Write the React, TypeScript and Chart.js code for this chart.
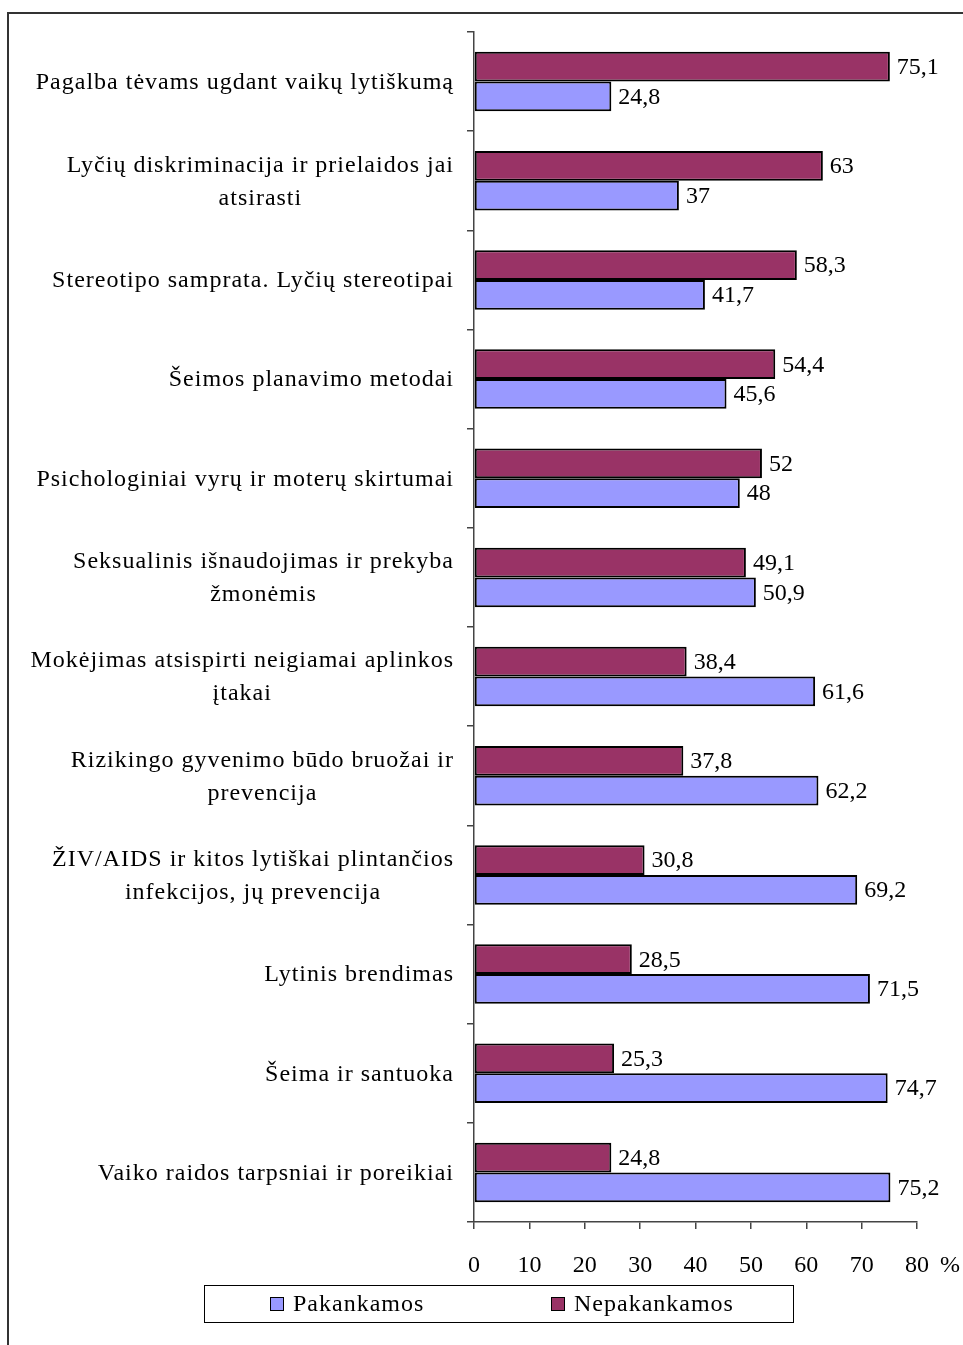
import React, { useEffect, useRef } from "react";
import { Chart, registerables } from "chart.js";

Chart.register(...registerables);

const categories: string[][] = [
  ["Pagalba tėvams ugdant vaikų lytiškumą"],
  ["Lyčių diskriminacija ir prielaidos jai", "atsirasti"],
  ["Stereotipo samprata. Lyčių stereotipai"],
  ["Šeimos planavimo metodai"],
  ["Psichologiniai vyrų ir moterų skirtumai"],
  ["Seksualinis išnaudojimas ir prekyba", "žmonėmis"],
  ["Mokėjimas atsispirti neigiamai aplinkos", "įtakai"],
  ["Rizikingo gyvenimo būdo bruožai ir", "prevencija"],
  ["ŽIV/AIDS ir kitos lytiškai plintančios", "infekcijos, jų prevencija"],
  ["Lytinis brendimas"],
  ["Šeima ir santuoka"],
  ["Vaiko raidos tarpsniai ir poreikiai"],
];

const nepakankamos: number[] = [75.1, 63, 58.3, 54.4, 52, 49.1, 38.4, 37.8, 30.8, 28.5, 25.3, 24.8];
const pakankamos: number[] = [24.8, 37, 41.7, 45.6, 48, 50.9, 61.6, 62.2, 69.2, 71.5, 74.7, 75.2];

const seriesNames = ["Pakankamos", "Nepakankamos"];
const xTicks: number[] = [0, 10, 20, 30, 40, 50, 60, 70, 80];
const unitLabel = "%";

const BLUE = "#9999FF";
const RED = "#993366";
const FONT = "'Liberation Serif', 'Times New Roman', serif";
const FS = 24;

const fmt = (v: number) => String(v).replace(".", ",");

export default function App() {
  const ref = useRef<HTMLCanvasElement | null>(null);

  useEffect(() => {
    if (!ref.current) return;
    const labelsPlugin = {
      id: "customLabels",
      afterDraw(chart: any) {
        const ctx = chart.ctx;
        const yScale = chart.scales.y;
        const xScale = chart.scales.x;
        ctx.save();
        ctx.font = `${FS}px ${FONT}`;
        ctx.fillStyle = "#000";
        // category labels
        ctx.letterSpacing = "1px";
        const right = chart.chartArea.left - 20;
        const lh = 33;
        categories.forEach((lines, i) => {
          const cy = yScale.getPixelForValue(i) + 1;
          const maxW = Math.max(...lines.map((l) => ctx.measureText(l).width));
          const cx = right - maxW / 2;
          ctx.textAlign = "center";
          ctx.textBaseline = "middle";
          const start = cy - ((lines.length - 1) * lh) / 2;
          lines.forEach((l, j) => ctx.fillText(l, cx, start + j * lh));
        });
        ctx.letterSpacing = "0px";
        // value labels
        ctx.textAlign = "left";
        ctx.textBaseline = "middle";
        chart.data.datasets.forEach((ds: any, di: number) => {
          const meta = chart.getDatasetMeta(di);
          meta.data.forEach((bar: any, i: number) => {
            ctx.fillText(fmt(ds.data[i]), bar.x + 7, bar.y + 1);
          });
        });
        // unit label
        const lastX = xScale.getPixelForValue(xTicks[xTicks.length - 1]);
        ctx.textAlign = "left";
        ctx.textBaseline = "middle";
        ctx.fillText(unitLabel, lastX + 23, xScale.top + 44);
        ctx.restore();
      },
    };

    const chart = new Chart(ref.current, {
      type: "bar",
      data: {
        labels: categories.map((c) => c.join(" ")),
        datasets: [
          {
            label: seriesNames[1],
            data: nepakankamos,
            backgroundColor: RED,
            borderColor: "#000",
            borderWidth: 2,
            borderSkipped: false,
            categoryPercentage: 0.6,
            barPercentage: 1,
          },
          {
            label: seriesNames[0],
            data: pakankamos,
            backgroundColor: BLUE,
            borderColor: "#000",
            borderWidth: 2,
            borderSkipped: false,
            categoryPercentage: 0.6,
            barPercentage: 1,
          },
        ],
      },
      plugins: [labelsPlugin],
      options: {
        indexAxis: "y",
        animation: false,
        responsive: false,
        maintainAspectRatio: false,
        layout: { padding: { top: 32, right: 46, left: 0, bottom: 0 } },
        plugins: { legend: { display: false }, tooltip: { enabled: false } },
        scales: {
          x: {
            type: "linear",
            min: 0,
            max: 80,
            afterBuildTicks: (s: any) => {
              s.ticks = xTicks.map((v) => ({ value: v }));
            },
            afterFit: (s: any) => {
              s.height = 123;
            },
            grid: {
              drawOnChartArea: false,
              drawTicks: true,
              tickLength: 7,
              color: "#444",
              lineWidth: 1.5,
            },
            border: { color: "#444", width: 1.5 },
            ticks: {
              color: "#000",
              font: { family: FONT, size: FS },
              padding: 22,
              maxRotation: 0,
              callback: (v: any) => String(v),
            },
          },
          y: {
            type: "category",
            afterFit: (s: any) => {
              s.width = 474;
            },
            grid: {
              offset: true,
              drawOnChartArea: false,
              drawTicks: true,
              tickLength: 7,
              color: "#444",
              lineWidth: 1.5,
            },
            border: { color: "#444", width: 1.5 },
            ticks: { display: false },
          },
        },
      },
    });
    return () => chart.destroy();
  }, []);

  return (
    <div style={{ position: "fixed", left: 0, top: 0, width: 963, height: 1345, overflow: "hidden", background: "#fff" }}>
      <div
        style={{
          position: "absolute",
          left: 7,
          top: 12,
          width: 970,
          height: 1350,
          borderLeft: "2px solid #333",
          borderTop: "2px solid #333",
        }}
      />
      <canvas ref={ref} width={963} height={1345} style={{ position: "absolute", left: 0, top: 0 }} />
      <div
        style={{
          position: "absolute",
          left: 204,
          top: 1285,
          width: 588,
          height: 36,
          border: "1px solid #000",
          fontFamily: FONT,
          fontSize: FS,
          letterSpacing: "1px",
          color: "#000",
        }}
      >
        <div style={{ position: "absolute", left: 65, top: 11, width: 12, height: 12, background: BLUE, border: "1.5px solid #000" }} />
        <div style={{ position: "absolute", left: 88, top: 3, lineHeight: "28px", whiteSpace: "nowrap" }}>{seriesNames[0]}</div>
        <div style={{ position: "absolute", left: 346, top: 11, width: 12, height: 12, background: RED, border: "1.5px solid #000" }} />
        <div style={{ position: "absolute", left: 369, top: 3, lineHeight: "28px", whiteSpace: "nowrap" }}>{seriesNames[1]}</div>
      </div>
    </div>
  );
}
